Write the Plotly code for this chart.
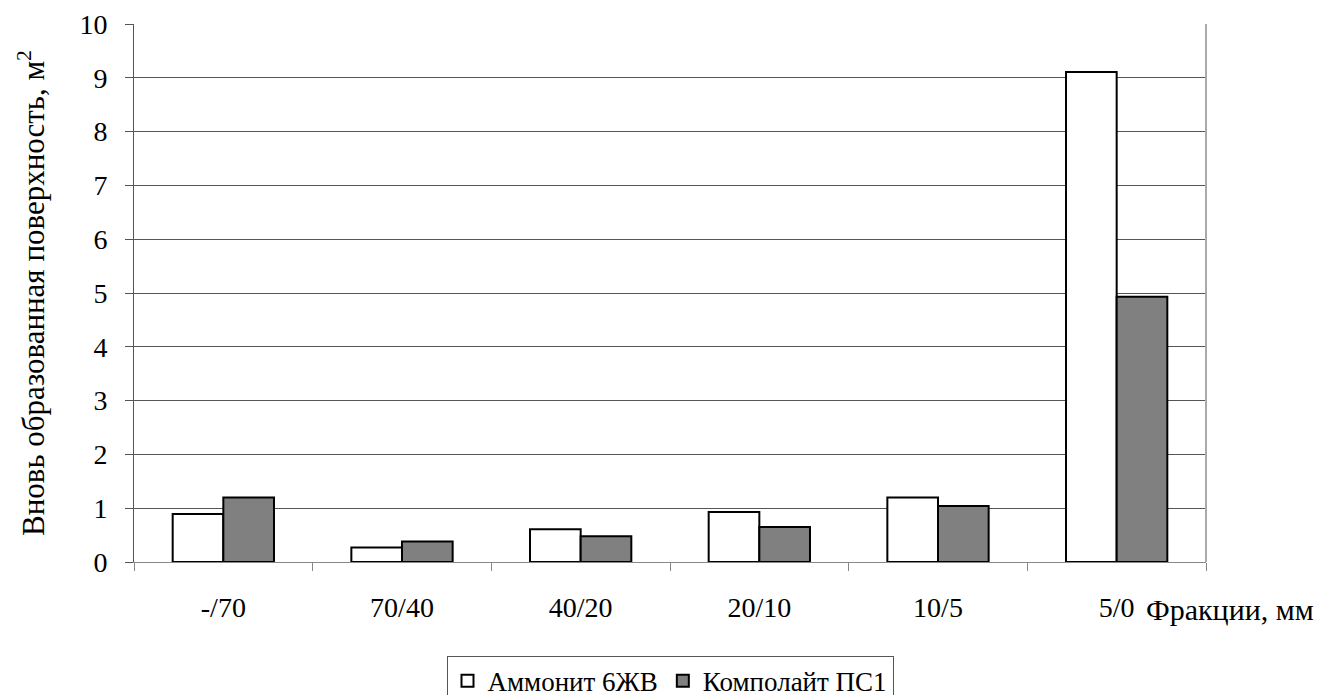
import plotly.graph_objects as go

categories = ["-/70", "70/40", "40/20", "20/10", "10/5", "5/0"]
ammonit = [0.89, 0.27, 0.61, 0.93, 1.20, 9.11]
kompolait = [1.20, 0.38, 0.48, 0.65, 1.04, 4.93]
series_names = ["Аммонит 6ЖВ", "Комполайт ПС1"]
y_ticks = list(range(0, 11))

FONT = "Liberation Serif, Times New Roman, serif"

fig = go.Figure()
fig.add_trace(go.Bar(x=categories, y=ammonit, name=series_names[0],
                     marker=dict(color="white", line=dict(color="black", width=2))))
fig.add_trace(go.Bar(x=categories, y=kompolait, name=series_names[1],
                     marker=dict(color="#808080", line=dict(color="black", width=2))))

fig.update_layout(
    width=1322, height=695,
    margin=dict(l=126, r=124, t=16, b=141),
    paper_bgcolor="white", plot_bgcolor="white",
    font=dict(family=FONT, size=28, color="black"),
    barmode="group", bargap=0.433, bargroupgap=0,
    showlegend=True,
    legend=dict(orientation="h", x=0.5, xanchor="center", yref="container",
                y=0.068, yanchor="top",
                bordercolor="#555555", borderwidth=1, font=dict(family=FONT, size=27),
                itemwidth=30, tracegroupgap=0),
    xaxis=dict(type="category", tickson="boundaries", ticks="outside", ticklen=8,
               tickcolor="#888888", showline=True, linecolor="#888888", linewidth=1,
               showgrid=False, tickfont=dict(family=FONT, size=28),
               automargin=False, ticklabelstandoff=20),
    yaxis=dict(range=[0, 10], tickvals=y_ticks, ticks="outside", ticklen=8,
               tickcolor="#555555", showline=True, linecolor="#555555", linewidth=1,
               showgrid=True, gridcolor="#555555", gridwidth=1, zeroline=False,
               tickfont=dict(family=FONT, size=28), automargin=False,
               ticklabelstandoff=12,
               title=dict(text="Вновь образованная поверхность, м<sup>2</sup>",
                          font=dict(family=FONT, size=31), standoff=25)),
)

fig.add_shape(type="line", xref="paper", yref="paper", x0=1, x1=1, y0=0, y1=1,
              line=dict(color="#aaaaaa", width=2))
fig.add_annotation(text="Фракции, мм", xref="paper", yref="paper", x=0.942, y=-0.089,
                   xanchor="left", yanchor="middle", showarrow=False,
                   font=dict(family=FONT, size=30, color="black"))

fig.write_html("out.html")
